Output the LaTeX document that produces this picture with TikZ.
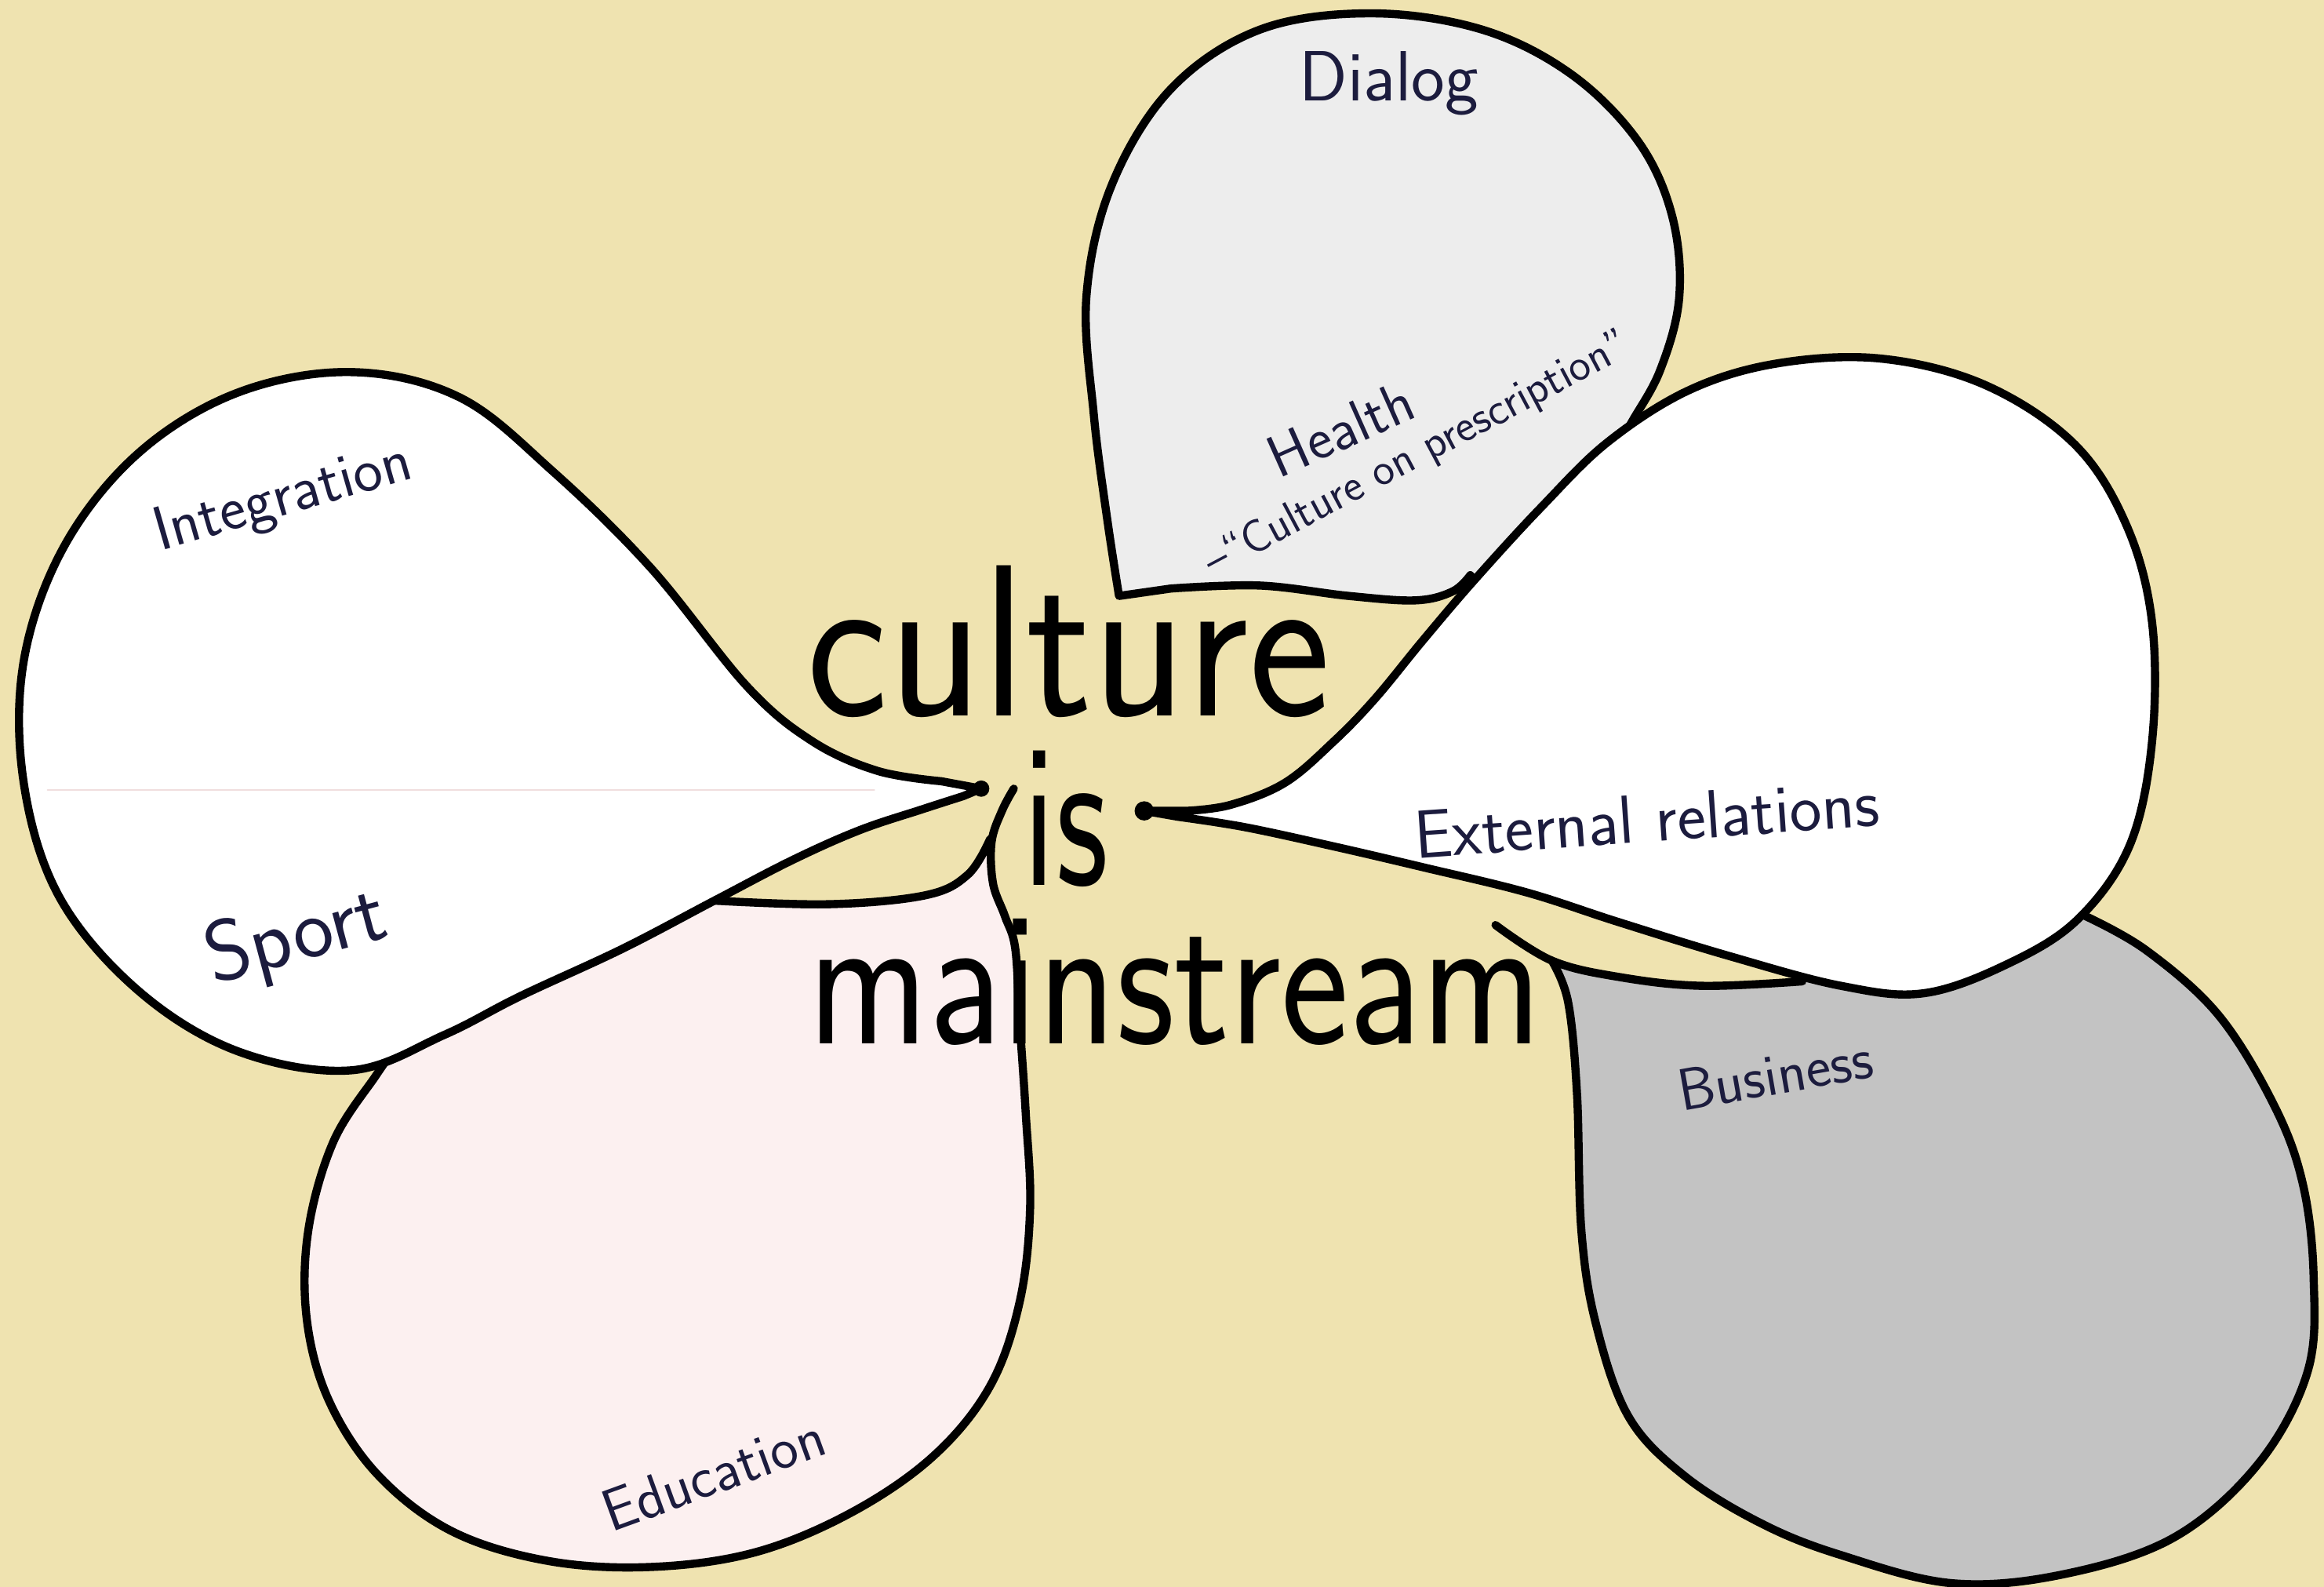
\documentclass[tikz,border=0pt]{standalone}
\usepackage{fontspec}
\definecolor{bg}{RGB}{239,227,176}
\definecolor{dialogc}{RGB}{237,237,237}
\definecolor{busc}{RGB}{195,195,195}
\definecolor{educ}{RGB}{252,240,240}
\definecolor{ink}{RGB}{28,28,62}
\definecolor{foldc}{RGB}{240,222,222}
\begin{document}
\begin{tikzpicture}[x=1pt,y=-1pt,line join=round,line cap=round,
  outl/.style={draw=black,line width=5.5pt},
  lab/.style={text=ink,inner sep=0pt,anchor=base},
  big/.style={text=black,inner sep=0pt,anchor=base}]
\useasboundingbox (0,0) rectangle (1568,1070.5);
\fill[bg] (0,0) rectangle (1568,1070.5);

% Dialog balloon
\filldraw[outl,fill=dialogc] (755,402) -- plot[smooth,tension=0.6] coordinates {(790,397) (850,395) (910,402) (955,405) (980,399) (992,388)} -- plot[smooth,tension=0.6] coordinates {(1005,402) (1045,370) (1075,335) (1098,290) (1120,250) (1133,200) (1128,145) (1105,95) (1060,50) (1000,20) (925,9) (850,20) (790,60) (750,125) (733,200) (738,280) (747,350) (755,402)} -- cycle;

% Business balloon
\fill[busc] plot[smooth,tension=0.6] coordinates {(1047,648) (1092,659) (1148,665) (1216,662)} -- (1240,650) -- (1300,655) -- (1360,638) -- (1408,616) -- plot[smooth,tension=0.6] coordinates {(1410,619) (1448,641) (1497,685) (1535,747) (1554,800) (1561,862) (1557,925) (1524,987) (1467,1037) (1392,1062) (1317,1068) (1242,1049) (1189,1028) (1137,996) (1099,956) (1077,894) (1067,831) (1064,738) (1058,676) (1047,648)} -- cycle;
\draw[outl] plot[smooth,tension=0.6] coordinates {(1009,624) (1047,648) (1092,659) (1148,665) (1216,662)};
\draw[outl] plot[smooth,tension=0.6] coordinates {(1405,617) (1448,641) (1497,685) (1535,747) (1554,800) (1561,862) (1557,925) (1524,987) (1467,1037) (1392,1062) (1317,1068) (1242,1049) (1189,1028) (1137,996) (1099,956) (1077,894) (1067,831) (1064,738) (1058,676) (1047,648)};

% Education balloon
\fill[educ] plot[smooth,tension=0.6] coordinates {(472,607) (557,610) (624,604) (653,590) (668,566)} -- plot[smooth,tension=0.6] coordinates {(669,568) (670,596) (678,618) (685,640) (688,690) (692,750) (695,815) (688,878) (668,935) (630,982) (575,1020) (510,1047) (440,1057) (370,1053) (305,1033) (255,995) (222,945) (207,890) (208,830) (225,770) (254,725)} -- (300,680) -- (400,630) -- (472,600) -- cycle;
\draw[outl] plot[smooth,tension=0.6] coordinates {(472,607) (557,610) (624,604) (653,590) (668,566)};
\draw[outl] plot[smooth,tension=0.6] coordinates {(684,532) (676,547) (669,568) (670,596) (678,618) (685,640) (688,690) (692,750) (695,815) (688,878) (668,935) (630,982) (575,1020) (510,1047) (440,1057) (370,1053) (305,1033) (255,995) (222,945) (207,890) (208,830) (225,770) (254,725) (266,708)};

% External relations balloon
\filldraw[outl,fill=white] (772,547) -- plot[smooth,tension=0.6] coordinates {(800,547) (830,543) (867,528) (900,500) (928,471) (960,432) (995,391) (1040,342) (1085,298) (1140,263) (1200,245) (1270,242) (1340,260) (1400,300) (1435,355) (1452,420) (1452,500) (1437,570) (1402,620) (1355,650) (1298,670) (1242,665) (1167,645) (1092,622) (1030,602) (960,585) (900,571) (840,558) (795,551)} -- cycle;

% Integration / Sport balloon
\filldraw[outl,fill=white] (662,532) -- plot[smooth,tension=0.6] coordinates {(635,527) (592,520) (548,500) (504,463) (439,383) (373,318) (310,268) (237,251) (160,265) (93,306) (43,369) (16,446) (16,528) (40,605) (93,668) (160,709) (237,722) (300,698) (351,672) (420,640) (483,607) (535,580) (580,560) (622,546) (650,537)} -- cycle;
\draw[foldc,line width=0.8pt] (32,533) -- (590,533);

% tip dots
\fill (662,532) circle (5.5);
\fill (772,547) circle (6.5);

% central words
\node[big,font=\sffamily\fontsize{146}{150}\selectfont\addfontfeatures{FakeBold=2}] (culture) at (721,483) {\scalebox{0.9}[1]{culture}};
\node[big,font=\sffamily\fontsize{140}{150}\selectfont\addfontfeatures{FakeBold=2}] (is) at (719,597) {\scalebox{0.7}[1]{is}};
\node[big,font=\sffamily\fontsize{130}{140}\selectfont\addfontfeatures{FakeBold=2}] (mainstream) at (793,704) {\scalebox{0.84}[1]{mainstream}};

% labels
\node[lab,font=\sffamily\fontsize{48}{52}\selectfont] (dialog) at (937,68) {Dialog};
\node[lab,font=\sffamily\fontsize{40}{44}\selectfont,rotate=24] (health) at (910,302) {Health};
\node[lab,font=\sffamily\fontsize{31}{35}\selectfont,rotate=28] (cop) at (960,314) {–“Culture on prescription”};
\node[lab,font=\sffamily\fontsize{42}{46}\selectfont,rotate=16] (integration) at (194,347) {Integration};
\node[lab,font=\sffamily\fontsize{58}{62}\selectfont,rotate=15] (sport) at (204,648) {Sport};
\node[lab,font=\sffamily\fontsize{46}{50}\selectfont,rotate=4] (external) at (1112,568) {External relations};
\node[lab,font=\sffamily\fontsize{40}{44}\selectfont,rotate=10] (business) at (1200,738) {Business};
\node[lab,font=\sffamily\fontsize{40}{44}\selectfont,rotate=20] (education) at (486,1007) {Education};
\end{tikzpicture}
\end{document}
